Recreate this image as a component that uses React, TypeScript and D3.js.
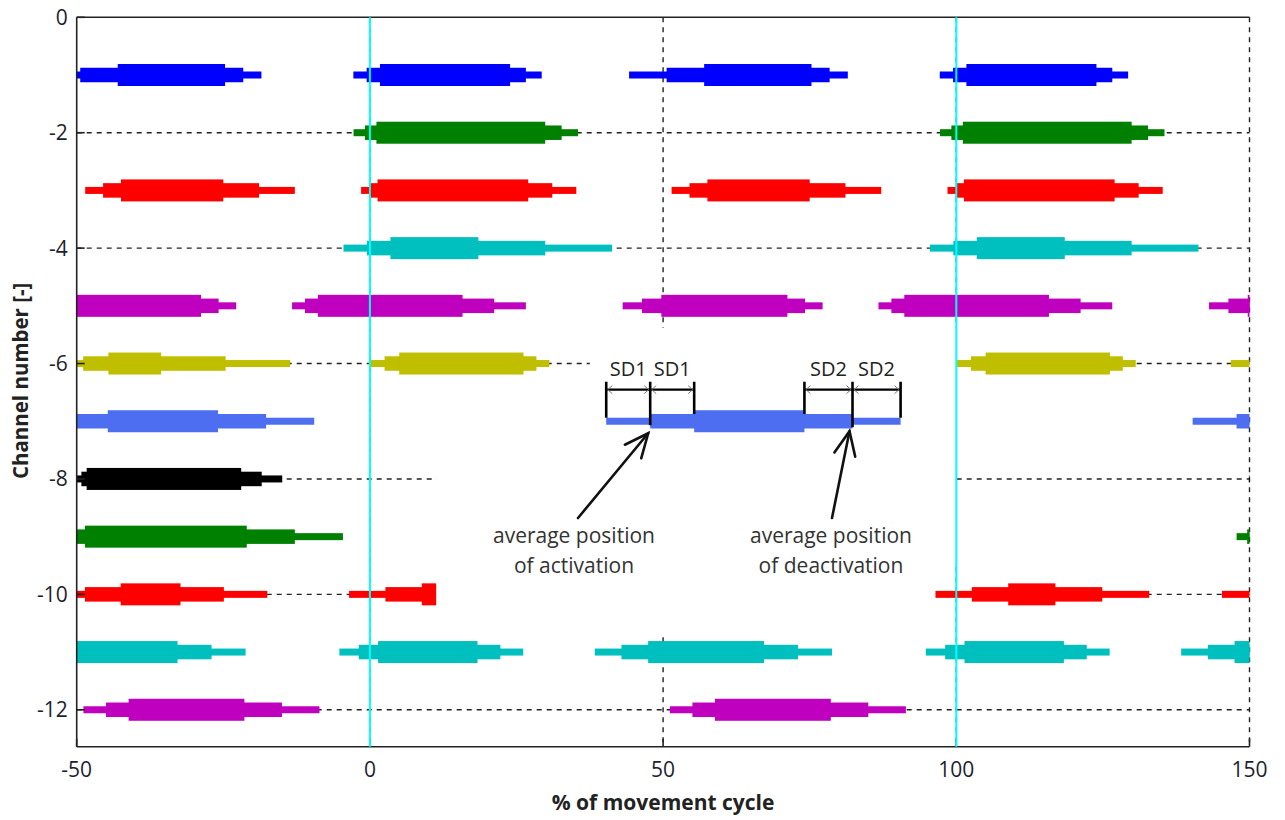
import * as d3 from "d3";

// channels (drawn at y = -channel) and their colours
const channelColors = ["#0000ff", "#008000", "#ff0000", "#00bfbf", "#bf00bf", "#bfbf00",
  "#4d6ef0", "#000000", "#008000", "#ff0000", "#00bfbf", "#bf00bf"];

// one entry per burst: activation / deactivation mean (% of cycle) and their SDs
const burstChannel = [1, 1, 2, 3, 3, 4, 5, 5, 6, 6, 7, 8, 9, 10, 10, 11, 11, 12];
const burstOn = [-0.55, 50.6, -0.84, -0.1, 54.5, -0.5, -11.07, 46.4, 2.5, 51.1, 47.8, 50.8, 49.6, 2.65, 51.4, -1.9, 42.9, 55.0];
const burstSd1 = [2.27, 6.4, 1.95, 1.4, 3.05, 4.0, 2.2, 3.3, 2.5, 4.3, 7.5, 0.9, 1.8, 6.2, 6.1, 3.3, 4.55, 3.85];
const burstOff = [26.6, 78.4, 32.7, 31.1, 81.1, 29.9, 21.2, 74.2, 28.4, 75.4, 82.3, 81.55, 87.2, 24.9, 75.1, 22.25, 73.0, 85.0];
const burstSd2 = [2.7, 3.1, 2.8, 4.1, 6.1, 11.4, 5.4, 3.0, 2.2, 11.0, 8.2, 3.5, 8.2, 8.0, 7.4, 3.9, 5.8, 6.4];
// which cycles (shift in %) each burst is drawn in
const allCycles = [-100, 0, 100];
const burstCycles = burstChannel.map((_, i) => (i === 1 ? [-100, 0] : allCycles));

const xTicks = [-50, 0, 50, 100, 150];
const yTicks = [0, -2, -4, -6, -8, -10, -12];
const cycleMarks = [0, 100];
const annotated = 10; // burst of channel 7 used for the explanation
const noteLines = [["average position", "of activation"], ["average position", "of deactivation"]];

const W = 1285, H = 820;
const x = d3.scaleLinear().domain([-50, 150]).range([76.7, 1249.5]);
const y = d3.scaleLinear().domain([-12.64, 0]).range([746.7, 17.3]);
const hThin = 7, hMed = 14.5, hThick = 22;
const font = "'Open Sans', 'Noto Sans', sans-serif";

function Burst({ i, shift }: { i: number; shift: number }) {
  const cy = y(-burstChannel[i]);
  const on = burstOn[i] + shift, off = burstOff[i] + shift;
  const s1 = burstSd1[i], s2 = burstSd2[i];
  const fill = channelColors[burstChannel[i] - 1];
  const seg = (a: number, b: number, h: number) => (
    <rect x={x(a)} width={x(b) - x(a)} y={cy - h / 2} height={h} fill={fill} />
  );
  return (
    <g>
      {seg(on - s1, off + s2, hThin)}
      {seg(on, off, hMed)}
      {seg(on + s1, off - s2, hThick)}
    </g>
  );
}

function Arrow({ x1, y1, x2, y2 }: { x1: number; y1: number; x2: number; y2: number }) {
  const a = Math.atan2(y2 - y1, x2 - x1);
  const L = 26, spread = 0.42;
  const b1 = [x2 - L * Math.cos(a - spread), y2 - L * Math.sin(a - spread)];
  const b2 = [x2 - L * Math.cos(a + spread), y2 - L * Math.sin(a + spread)];
  return (
    <g stroke="#111" strokeWidth={2.6} strokeLinecap="round" fill="none">
      <line x1={x1} y1={y1} x2={x2} y2={y2} />
      <path d={`M${b1[0]},${b1[1]}L${x2},${y2}L${b2[0]},${b2[1]}`} />
    </g>
  );
}

function Bracket({ a, m, b, bottoms, label }: { a: number; m: number; b: number; bottoms: number[]; label: string }) {
  const top = y(-7) - 39.5, hy = y(-7) - 31.6;
  const xs = [x(a), x(m), x(b)];
  const chev = (px: number, dir: number) =>
    `M${px + dir * 6},${hy - 4}L${px + dir * 1.5},${hy}L${px + dir * 6},${hy + 4}`;
  return (
    <g>
      {xs.map((px, k) => (
        <line key={k} x1={px} x2={px} y1={top} y2={bottoms[k]} stroke="#000" strokeWidth={2.6} />
      ))}
      <line x1={xs[0]} x2={xs[2]} y1={hy} y2={hy} stroke="#000" strokeWidth={2.4} />
      <g stroke="#777" strokeWidth={1} fill="none">
        <path d={chev(xs[0], 1)} />
        <path d={chev(xs[1], -1)} />
        <path d={chev(xs[1], 1)} />
        <path d={chev(xs[2], -1)} />
      </g>
      {[0, 1].map((k) => (
        <text key={k} x={(xs[k] + xs[k + 1]) / 2} y={y(-7) - 45} textAnchor="middle"
          fontSize={20} fill="#222" fontFamily={font}>{label}</text>
      ))}
    </g>
  );
}

export default function App() {
  const cy7 = y(-7);
  const on7 = burstOn[annotated], off7 = burstOff[annotated];
  const s1 = burstSd1[annotated], s2 = burstSd2[annotated];
  const noteX = [574, 831];
  return (
    <svg width={W} height={H} style={{ position: "absolute", left: 0, top: 0, background: "#fff" }}>
      <defs>
        <clipPath id="plot">
          <rect x={x(-50)} y={y(0)} width={x(150) - x(-50)} height={y(-12.64) - y(0)} />
        </clipPath>
      </defs>

      {/* dashed grid */}
      <g stroke="#222" strokeWidth={1.4} strokeDasharray="5,5">
        {yTicks.filter((t) => t !== 0).map((t) => (
          <line key={t} x1={x(-50)} x2={x(150)} y1={y(t)} y2={y(t)} />
        ))}
        {xTicks.filter((t) => t !== -50).map((t) => (
          <line key={t} x1={x(t)} x2={x(t)} y1={y(0)} y2={y(-12.64)} />
        ))}
      </g>

      {/* bursts, repeated every cycle */}
      <g clipPath="url(#plot)">
        {burstChannel.map((_, i) =>
          burstCycles[i].map((s) => <Burst key={`${i}_${s}`} i={i} shift={s} />)
        )}
      </g>

      {/* blank area used for the explanation */}
      <g fill="#fff">
        <rect x={x(37.5)} width={x(100) - x(37.5)} y={y(-5.38)} height={y(-9.45) - y(-5.38)} />
        <rect x={x(11.3)} width={x(96.3) - x(11.3)} y={y(-7.5)} height={y(-10.72) - y(-7.5)} />
      </g>
      <Burst i={annotated} shift={0} />

      {/* axes frame */}
      <g stroke="#222" strokeWidth={1.6}>
        <line x1={x(-50)} x2={x(-50)} y1={y(0)} y2={y(-12.64)} />
        <line x1={x(-50)} x2={x(150)} y1={y(-12.64)} y2={y(-12.64)} />
        <line x1={x(-50)} x2={x(150)} y1={y(0)} y2={y(0)} />
        {yTicks.map((t) => (
          <line key={t} x1={x(-50)} x2={x(-50) + 8} y1={y(t)} y2={y(t)} />
        ))}
        {xTicks.map((t) => (
          <line key={t} x1={x(t)} x2={x(t)} y1={y(-12.64)} y2={y(-12.64) - 8} />
        ))}
      </g>

      {/* cycle boundaries */}
      {cycleMarks.map((t) => (
        <line key={t} x1={x(t)} x2={x(t)} y1={y(0)} y2={y(-12.64)} stroke="#00ffff" strokeWidth={2} />
      ))}

      {/* explanation */}
      <Bracket a={on7 - s1} m={on7} b={on7 + s1} label="SD1"
        bottoms={[cy7 - hThin / 2, cy7 + 4, cy7 - hMed / 2]} />
      <Bracket a={off7 - s2} m={off7} b={off7 + s2} label="SD2"
        bottoms={[cy7 - hMed / 2, cy7 + 6, cy7 - hThin / 2]} />
      <Arrow x1={578} y1={518} x2={x(on7) - 2} y2={cy7 + 12} />
      <Arrow x1={832} y1={518} x2={x(off7) - 3} y2={cy7 + 10} />
      <g fontFamily={font} fontSize={21} fill="#333" textAnchor="middle">
        {noteLines.map((lines, k) =>
          lines.map((s, j) => (
            <text key={`${k}_${j}`} x={noteX[k]} y={543 + j * 29.5}>{s}</text>
          ))
        )}
      </g>

      {/* tick labels */}
      <g fontFamily={font} fontSize={21} fill="#1e1e2e">
        {yTicks.map((t) => (
          <text key={t} x={x(-50) - 9} y={y(t) + 7.5} textAnchor="end">{t}</text>
        ))}
        {xTicks.map((t) => (
          <text key={t} x={x(t)} y={777} textAnchor="middle">{t}</text>
        ))}
      </g>

      {/* axis titles */}
      <text x={x(50)} y={810} textAnchor="middle" fontFamily={font} fontSize={21} fontWeight="bold" fill="#222">
        % of movement cycle
      </text>
      <text transform={`translate(28,${y(-6.3)}) rotate(-90)`} textAnchor="middle" fontFamily={font}
        fontSize={20.5} fontWeight="bold" fill="#222">
        Channel number [-]
      </text>
    </svg>
  );
}
